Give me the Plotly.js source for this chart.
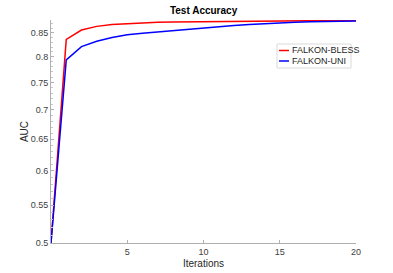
<!DOCTYPE html>
<html>
<head>
<meta charset="utf-8">
<script src="https://cdn.plot.ly/plotly-3.0.1.min.js"></script>
<style>html,body{margin:0;padding:0;background:#fff;}#chart{width:393px;height:273px;}</style>
</head>
<body>
<div id="chart"></div>
<script>
const iterations = [0,1,2,3,4,5,6,7,8,9,10,11,12,13,14,15,16,17,18,19,20];
const blessAUC = [0.5,0.836,0.856,0.864,0.868,0.870,0.872,0.873,0.8735,0.874,0.8745,0.875,0.8752,0.8755,0.8758,0.876,0.8762,0.8764,0.8766,0.8768,0.877];
const uniAUC = [0.5,0.794,0.821,0.832,0.840,0.846,0.849,0.852,0.855,0.858,0.861,0.864,0.866,0.868,0.870,0.872,0.873,0.874,0.8745,0.875,0.876];
const yTickVals = [0.5,0.55,0.6,0.65,0.7,0.75,0.8,0.85];
const yTickText = ['0.5','0.55','0.6','0.65','0.7','0.75','0.8','0.85'];
const xTickVals = [5,10,15,20];
const seriesNames = ['FALKON-BLESS','FALKON-UNI'];
const seriesColors = ['#ff0000','#0000ff'];

const minorVals = [];
for (let v = 50; v <= 87; v++) minorVals.push(v/100);

const traces = [
  {x: iterations, y: blessAUC, type:'scatter', mode:'lines', name: seriesNames[0], line:{color:seriesColors[0], width:1.5}},
  {x: iterations, y: uniAUC, type:'scatter', mode:'lines', name: seriesNames[1], line:{color:seriesColors[1], width:1.5}}
];

const W = 393, H = 273, L = 51, R = 356, T = 20, B = 243;
const px = v => (v - L) / (R - L);
const py = v => (B - v) / (B - T);

const shapes = [
  {type:'rect', xref:'paper', yref:'paper', x0:px(277), x1:px(351), y0:py(68), y1:py(44), line:{color:'#d9d9d9', width:1}, fillcolor:'#ffffff', layer:'above'},
  {type:'line', xref:'paper', yref:'paper', x0:px(279), x1:px(289), y0:py(50.5), y1:py(50.5), line:{color:seriesColors[0], width:1.5}, layer:'above'},
  {type:'line', xref:'paper', yref:'paper', x0:px(279), x1:px(289), y0:py(61), y1:py(61), line:{color:seriesColors[1], width:1.5}, layer:'above'}
];
const annotations = [
  {xref:'paper', yref:'paper', x:px(290), y:py(50.5), xanchor:'left', yanchor:'middle', text:seriesNames[0], showarrow:false, font:{family:'Liberation Sans, Arial, sans-serif', size:9, color:'#262626'}},
  {xref:'paper', yref:'paper', x:px(290), y:py(61), xanchor:'left', yanchor:'middle', text:seriesNames[1], showarrow:false, font:{family:'Liberation Sans, Arial, sans-serif', size:9, color:'#262626'}}
];

const layout = {
  width: W, height: H,
  margin: {l: L, r: W - R, t: T, b: H - B, pad: 0},
  paper_bgcolor:'#fff', plot_bgcolor:'#fff',
  showlegend: false,
  font: {family:'Liberation Sans, Arial, sans-serif', size:9, color:'#404040'},
  title: {text:'<b>Test Accuracy</b>', x:0.518, xref:'container', y:1-10/H, yref:'container', xanchor:'center', yanchor:'middle', font:{size:10, color:'#000'}},
  xaxis: {
    range:[0,20], tickmode:'array', tickvals: xTickVals, ticks:'inside', ticklen:3, tickcolor:'#b0b0b0',
    showline:true, linecolor:'#b0b0b0', linewidth:1, showgrid:false, zeroline:false, mirror:false,
    tickfont:{size:9, color:'#404040'},
    title:{text:'Iterations', font:{size:10, color:'#262626'}, standoff:4}
  },
  yaxis: {
    type:'log', range:[Math.log10(0.5), Math.log10(0.878)], tickmode:'array', tickvals: yTickVals, ticktext: yTickText,
    ticks:'inside', ticklen:3, tickcolor:'#b0b0b0',
    minor:{tickmode:'array', tickvals:minorVals, ticks:'inside', ticklen:2, tickcolor:'#c8c8c8', showgrid:false},
    showline:true, linecolor:'#b0b0b0', linewidth:1, showgrid:false, zeroline:false,
    tickfont:{size:9, color:'#404040'},
    title:{text:'AUC', font:{size:10, color:'#262626'}, standoff:0}
  },
  shapes: shapes,
  annotations: annotations
};

Plotly.newPlot('chart', traces, layout, {displayModeBar:false, staticPlot:true});
</script>
</body>
</html>
